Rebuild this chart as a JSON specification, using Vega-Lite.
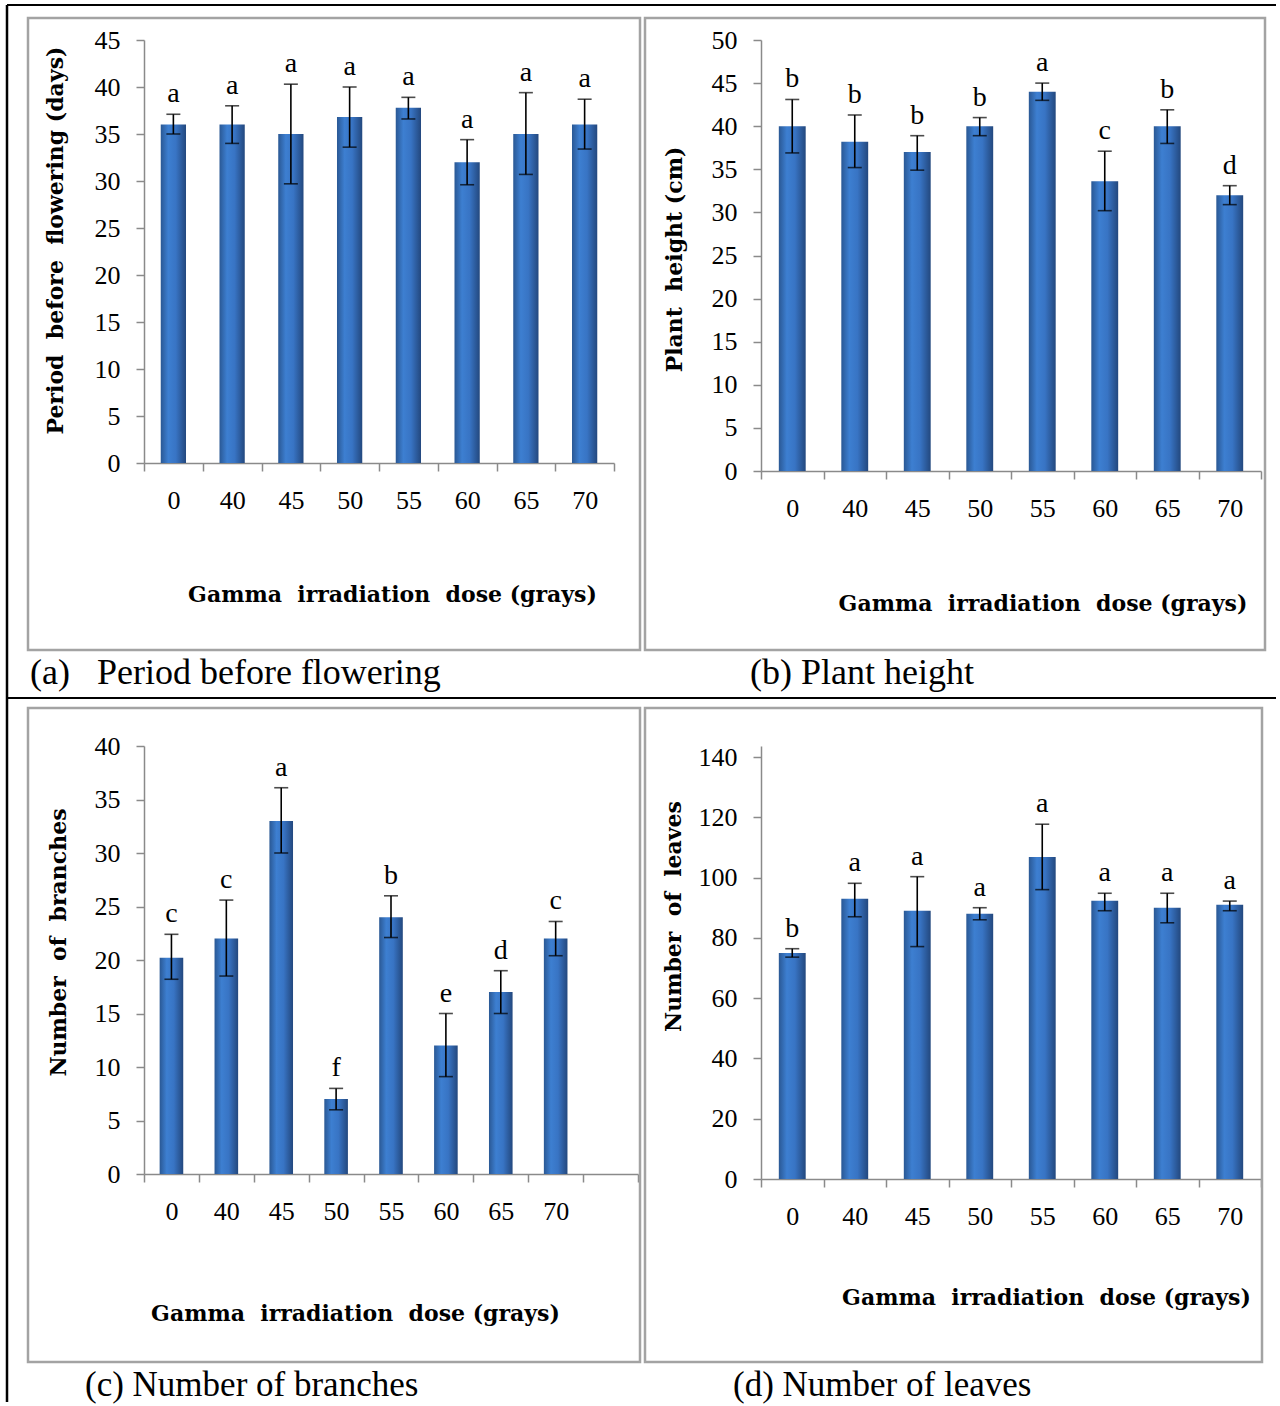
{
  "$schema": "https://vega.github.io/schema/vega-lite/v6.json",
  "padding": {"left": 5, "top": 3, "right": 0, "bottom": 0},
  "background": "white",
  "columns": 2,
  "spacing": {"row": 275, "column": 123},
  "bounds": "flush",
  "datasets": {
    "flowering": [
      {"dose": "0", "mean": 36.0, "lo": 35.0, "hi": 37.1, "letter": "a"},
      {"dose": "40", "mean": 36.0, "lo": 34.0, "hi": 38.0, "letter": "a"},
      {"dose": "45", "mean": 35.0, "lo": 29.7, "hi": 40.3, "letter": "a"},
      {"dose": "50", "mean": 36.8, "lo": 33.6, "hi": 40.0, "letter": "a"},
      {"dose": "55", "mean": 37.8, "lo": 36.6, "hi": 38.9, "letter": "a"},
      {"dose": "60", "mean": 32.0, "lo": 29.6, "hi": 34.4, "letter": "a"},
      {"dose": "65", "mean": 35.0, "lo": 30.7, "hi": 39.4, "letter": "a"},
      {"dose": "70", "mean": 36.0, "lo": 33.4, "hi": 38.7, "letter": "a"}
    ],
    "height": [
      {"dose": "0", "mean": 40.0, "lo": 36.9, "hi": 43.1, "letter": "b"},
      {"dose": "40", "mean": 38.2, "lo": 35.2, "hi": 41.3, "letter": "b"},
      {"dose": "45", "mean": 37.0, "lo": 34.9, "hi": 38.9, "letter": "b"},
      {"dose": "50", "mean": 40.0, "lo": 38.9, "hi": 41.0, "letter": "b"},
      {"dose": "55", "mean": 44.0, "lo": 43.0, "hi": 45.0, "letter": "a"},
      {"dose": "60", "mean": 33.6, "lo": 30.2, "hi": 37.1, "letter": "c"},
      {"dose": "65", "mean": 40.0, "lo": 38.0, "hi": 41.9, "letter": "b"},
      {"dose": "70", "mean": 32.0, "lo": 30.9, "hi": 33.1, "letter": "d"}
    ],
    "branches": [
      {"dose": "0", "mean": 20.2, "lo": 18.2, "hi": 22.4, "letter": "c"},
      {"dose": "40", "mean": 22.0, "lo": 18.5, "hi": 25.6, "letter": "c"},
      {"dose": "45", "mean": 33.0, "lo": 30.0, "hi": 36.1, "letter": "a"},
      {"dose": "50", "mean": 7.0, "lo": 6.0, "hi": 8.0, "letter": "f"},
      {"dose": "55", "mean": 24.0, "lo": 22.1, "hi": 26.0, "letter": "b"},
      {"dose": "60", "mean": 12.0, "lo": 9.1, "hi": 15.0, "letter": "e"},
      {"dose": "65", "mean": 17.0, "lo": 15.0, "hi": 19.0, "letter": "d"},
      {"dose": "70", "mean": 22.0, "lo": 20.4, "hi": 23.6, "letter": "c"}
    ],
    "leaves": [
      {"dose": "0", "mean": 75.0, "lo": 73.6, "hi": 76.4, "letter": "b"},
      {"dose": "40", "mean": 93.0, "lo": 87.0, "hi": 98.1, "letter": "a"},
      {"dose": "45", "mean": 89.0, "lo": 77.1, "hi": 100.3, "letter": "a"},
      {"dose": "50", "mean": 88.0, "lo": 86.0, "hi": 90.0, "letter": "a"},
      {"dose": "55", "mean": 106.8, "lo": 96.0, "hi": 117.7, "letter": "a"},
      {"dose": "60", "mean": 92.3, "lo": 89.0, "hi": 94.8, "letter": "a"},
      {"dose": "65", "mean": 90.0, "lo": 85.0, "hi": 94.8, "letter": "a"},
      {"dose": "70", "mean": 91.0, "lo": 89.0, "hi": 92.2, "letter": "a"}
    ],
    "frame": [{}]
  },
  "concat": [
    {
      "width": 470, "height": 423,
      "resolve": {"scale": {"x": "independent", "y": "independent"}},
      "layer": [
        {
          "data": {"name": "flowering"},
          "encoding": {
            "x": {"field": "dose", "type": "nominal", "scale": {"domain": ["0","40","45","50","55","60","65","70"], "paddingInner": 0, "paddingOuter": 0},
                  "axis": {"orient": "bottom", "title": "Gamma\u00a0 irradiation\u00a0 dose (grays)", "titleX": 248, "titleY": 131, "titleBaseline": "middle", "titleAlign": "center", "labelAngle": 0, "tickBand": "extent"}}
          },
          "layer": [
            {"mark": {"type": "bar", "width": {"band": 0.43}, "fill": {"gradient": "linear", "x1": 0, "y1": 0, "x2": 1, "y2": 0, "stops": [{"offset": 0, "color": "#2a5894"}, {"offset": 0.3, "color": "#3d7fd1"}, {"offset": 0.6, "color": "#3874c4"}, {"offset": 1, "color": "#23487e"}]}},
             "encoding": {"y": {"field": "mean", "type": "quantitative", "scale": {"domain": [0, 45], "nice": false},
               "axis": {"orient": "left", "title": "Period\u00a0 before\u00a0 flowering (days)", "values": [0,5,10,15,20,25,30,35,40,45], "titleX": -89, "titleY": 200, "titleAngle": 270, "titleBaseline": "middle", "titleAlign": "center"}}}},
            {"mark": {"type": "rule", "color": "black", "strokeWidth": 1.6},
             "encoding": {"y": {"field": "lo", "type": "quantitative", "title": "Period\u00a0 before\u00a0 flowering (days)"}, "y2": {"field": "hi"}}},
            {"mark": {"type": "tick", "orient": "horizontal", "size": 14, "thickness": 1.6, "color": "black"},
             "encoding": {"y": {"field": "hi", "type": "quantitative", "title": "Period\u00a0 before\u00a0 flowering (days)"}}},
            {"mark": {"type": "tick", "orient": "horizontal", "size": 14, "thickness": 1.6, "color": "black"},
             "encoding": {"y": {"field": "lo", "type": "quantitative", "title": "Period\u00a0 before\u00a0 flowering (days)"}}},
            {"mark": {"type": "text", "dy": -12, "baseline": "alphabetic", "font": "Liberation Serif", "fontSize": 28, "color": "black"},
             "encoding": {"y": {"field": "hi", "type": "quantitative", "title": "Period\u00a0 before\u00a0 flowering (days)"}, "text": {"field": "letter"}}}
          ]
        },
        {
          "data": {"name": "frame"},
          "encoding": {
            "x": {"datum": 0, "type": "quantitative", "scale": {"domain": [0.189542, 0.957516], "nice": false, "zero": false}, "axis": null},
            "y": {"datum": 0, "type": "quantitative", "scale": {"domain": [0.034810, 0.704114], "nice": false, "zero": false, "reverse": true}, "axis": null}
          },
          "layer": [
            {"mark": {"type": "rect", "filled": false, "stroke": "#a3a3a3", "strokeWidth": 2.5},
             "encoding": {"x2": {"datum": 1}, "y2": {"datum": 1}}},
            {"mark": {"type": "text", "text": "(a)\u00a0\u00a0 Period before flowering", "align": "left", "baseline": "middle", "font": "Liberation Serif", "fontSize": 36, "color": "black"},
             "encoding": {"x": {"datum": 0.003268, "type": "quantitative"}, "y": {"datum": 1.036392, "type": "quantitative"}}},
            {"mark": {"type": "rule", "color": "black", "strokeWidth": 2},
             "encoding": {"x": {"datum": -0.034314, "type": "quantitative"}, "x2": {"datum": 2.039216}, "y": {"datum": -0.020570, "type": "quantitative"}}},
            {"mark": {"type": "rule", "color": "black", "strokeWidth": 2},
             "encoding": {"x": {"datum": -0.034314, "type": "quantitative"}, "x2": {"datum": 2.039216}, "y": {"datum": 1.075949, "type": "quantitative"}}},
            {"mark": {"type": "rule", "color": "black", "strokeWidth": 2.5},
             "encoding": {"x": {"datum": -0.034314, "type": "quantitative"}, "y": {"datum": -0.020570, "type": "quantitative"}, "y2": {"datum": 2.189873}}}
          ]
        }
      ]
    },
    {
      "width": 500, "height": 431,
      "resolve": {"scale": {"x": "independent", "y": "independent"}},
      "layer": [
        {
          "data": {"name": "height"},
          "encoding": {
            "x": {"field": "dose", "type": "nominal", "scale": {"domain": ["0","40","45","50","55","60","65","70"], "paddingInner": 0, "paddingOuter": 0},
                  "axis": {"orient": "bottom", "title": "Gamma\u00a0 irradiation\u00a0 dose (grays)", "titleX": 281.5, "titleY": 132, "titleBaseline": "middle", "titleAlign": "center", "labelAngle": 0, "tickBand": "extent"}}
          },
          "layer": [
            {"mark": {"type": "bar", "width": {"band": 0.43}, "fill": {"gradient": "linear", "x1": 0, "y1": 0, "x2": 1, "y2": 0, "stops": [{"offset": 0, "color": "#2a5894"}, {"offset": 0.3, "color": "#3d7fd1"}, {"offset": 0.6, "color": "#3874c4"}, {"offset": 1, "color": "#23487e"}]}},
             "encoding": {"y": {"field": "mean", "type": "quantitative", "scale": {"domain": [0, 50], "nice": false},
               "axis": {"orient": "left", "title": "Plant\u00a0 height (cm)", "values": [0,5,10,15,20,25,30,35,40,45,50], "titleX": -87, "titleY": 219, "titleAngle": 270, "titleBaseline": "middle", "titleAlign": "center"}}}},
            {"mark": {"type": "rule", "color": "black", "strokeWidth": 1.6},
             "encoding": {"y": {"field": "lo", "type": "quantitative", "title": "Plant\u00a0 height (cm)"}, "y2": {"field": "hi"}}},
            {"mark": {"type": "tick", "orient": "horizontal", "size": 14, "thickness": 1.6, "color": "black"},
             "encoding": {"y": {"field": "hi", "type": "quantitative", "title": "Plant\u00a0 height (cm)"}}},
            {"mark": {"type": "tick", "orient": "horizontal", "size": 14, "thickness": 1.6, "color": "black"},
             "encoding": {"y": {"field": "lo", "type": "quantitative", "title": "Plant\u00a0 height (cm)"}}},
            {"mark": {"type": "text", "dy": -12, "baseline": "alphabetic", "font": "Liberation Serif", "fontSize": 28, "color": "black"},
             "encoding": {"y": {"field": "hi", "type": "quantitative", "title": "Plant\u00a0 height (cm)"}, "text": {"field": "letter"}}}
          ]
        },
        {
          "data": {"name": "frame"},
          "encoding": {
            "x": {"datum": 0, "type": "quantitative", "scale": {"domain": [0.187097, 0.993548], "nice": false, "zero": false}, "axis": null},
            "y": {"datum": 0, "type": "quantitative", "scale": {"domain": [0.034810, 0.716772], "nice": false, "zero": false, "reverse": true}, "axis": null}
          },
          "layer": [
            {"mark": {"type": "rect", "filled": false, "stroke": "#a3a3a3", "strokeWidth": 2.5},
             "encoding": {"x2": {"datum": 1}, "y2": {"datum": 1}}},
            {"mark": {"type": "text", "text": "(b) Plant height", "align": "left", "baseline": "middle", "font": "Liberation Serif", "fontSize": 36, "color": "black"},
             "encoding": {"x": {"datum": 0.169355, "type": "quantitative"}, "y": {"datum": 1.036392, "type": "quantitative"}}}
          ]
        }
      ]
    },
    {
      "width": 494, "height": 428,
      "resolve": {"scale": {"x": "independent", "y": "independent"}},
      "layer": [
        {
          "data": {"name": "branches"},
          "encoding": {
            "x": {"field": "dose", "type": "nominal", "scale": {"domain": ["0","40","45","50","55","60","65","70"," "], "paddingInner": 0, "paddingOuter": 0},
                  "axis": {"orient": "bottom", "title": "Gamma\u00a0 irradiation\u00a0 dose (grays)", "titleX": 211, "titleY": 139, "titleBaseline": "middle", "titleAlign": "center", "labelAngle": 0, "tickBand": "extent"}}
          },
          "layer": [
            {"mark": {"type": "bar", "width": {"band": 0.43}, "fill": {"gradient": "linear", "x1": 0, "y1": 0, "x2": 1, "y2": 0, "stops": [{"offset": 0, "color": "#2a5894"}, {"offset": 0.3, "color": "#3d7fd1"}, {"offset": 0.6, "color": "#3874c4"}, {"offset": 1, "color": "#23487e"}]}},
             "encoding": {"y": {"field": "mean", "type": "quantitative", "scale": {"domain": [0, 40], "nice": false},
               "axis": {"orient": "left", "title": "Number\u00a0 of\u00a0 branches", "values": [0,5,10,15,20,25,30,35,40], "titleX": -86, "titleY": 196, "titleAngle": 270, "titleBaseline": "middle", "titleAlign": "center"}}}},
            {"mark": {"type": "rule", "color": "black", "strokeWidth": 1.6},
             "encoding": {"y": {"field": "lo", "type": "quantitative", "title": "Number\u00a0 of\u00a0 branches"}, "y2": {"field": "hi"}}},
            {"mark": {"type": "tick", "orient": "horizontal", "size": 14, "thickness": 1.6, "color": "black"},
             "encoding": {"y": {"field": "hi", "type": "quantitative", "title": "Number\u00a0 of\u00a0 branches"}}},
            {"mark": {"type": "tick", "orient": "horizontal", "size": 14, "thickness": 1.6, "color": "black"},
             "encoding": {"y": {"field": "lo", "type": "quantitative", "title": "Number\u00a0 of\u00a0 branches"}}},
            {"mark": {"type": "text", "dy": -12, "baseline": "alphabetic", "font": "Liberation Serif", "fontSize": 28, "color": "black"},
             "encoding": {"y": {"field": "hi", "type": "quantitative", "title": "Number\u00a0 of\u00a0 branches"}, "text": {"field": "letter"}}}
          ]
        },
        {
          "data": {"name": "frame"},
          "encoding": {
            "x": {"datum": 0, "type": "quantitative", "scale": {"domain": [0.189542, 0.996732], "nice": false, "zero": false}, "axis": null},
            "y": {"datum": 0, "type": "quantitative", "scale": {"domain": [0.058104, 0.712538], "nice": false, "zero": false, "reverse": true}, "axis": null}
          },
          "layer": [
            {"mark": {"type": "rect", "filled": false, "stroke": "#a3a3a3", "strokeWidth": 2.5},
             "encoding": {"x2": {"datum": 1}, "y2": {"datum": 1}}},
            {"mark": {"type": "text", "text": "(c) Number of branches", "align": "left", "baseline": "middle", "font": "Liberation Serif", "fontSize": 35, "color": "black"},
             "encoding": {"x": {"datum": 0.093137, "type": "quantitative"}, "y": {"datum": 1.035168, "type": "quantitative"}}}
          ]
        }
      ]
    },
    {
      "width": 500, "height": 433,
      "resolve": {"scale": {"x": "independent", "y": "independent"}},
      "layer": [
        {
          "data": {"name": "leaves"},
          "encoding": {
            "x": {"field": "dose", "type": "nominal", "scale": {"domain": ["0","40","45","50","55","60","65","70"], "paddingInner": 0, "paddingOuter": 0},
                  "axis": {"orient": "bottom", "title": "Gamma\u00a0 irradiation\u00a0 dose (grays)", "titleX": 285, "titleY": 118, "titleBaseline": "middle", "titleAlign": "center", "labelAngle": 0, "tickBand": "extent"}}
          },
          "layer": [
            {"mark": {"type": "bar", "width": {"band": 0.43}, "fill": {"gradient": "linear", "x1": 0, "y1": 0, "x2": 1, "y2": 0, "stops": [{"offset": 0, "color": "#2a5894"}, {"offset": 0.3, "color": "#3d7fd1"}, {"offset": 0.6, "color": "#3874c4"}, {"offset": 1, "color": "#23487e"}]}},
             "encoding": {"y": {"field": "mean", "type": "quantitative", "scale": {"domain": [0, 143.65], "nice": false},
               "axis": {"orient": "left", "title": "Number\u00a0 of\u00a0 leaves", "values": [0,20,40,60,80,100,120,140], "titleX": -88, "titleY": 170, "titleAngle": 270, "titleBaseline": "middle", "titleAlign": "center"}}}},
            {"mark": {"type": "rule", "color": "black", "strokeWidth": 1.6},
             "encoding": {"y": {"field": "lo", "type": "quantitative", "title": "Number\u00a0 of\u00a0 leaves"}, "y2": {"field": "hi"}}},
            {"mark": {"type": "tick", "orient": "horizontal", "size": 14, "thickness": 1.6, "color": "black"},
             "encoding": {"y": {"field": "hi", "type": "quantitative", "title": "Number\u00a0 of\u00a0 leaves"}}},
            {"mark": {"type": "tick", "orient": "horizontal", "size": 14, "thickness": 1.6, "color": "black"},
             "encoding": {"y": {"field": "lo", "type": "quantitative", "title": "Number\u00a0 of\u00a0 leaves"}}},
            {"mark": {"type": "text", "dy": -12, "baseline": "alphabetic", "font": "Liberation Serif", "fontSize": 28, "color": "black"},
             "encoding": {"y": {"field": "hi", "type": "quantitative", "title": "Number\u00a0 of\u00a0 leaves"}, "text": {"field": "letter"}}}
          ]
        },
        {
          "data": {"name": "frame"},
          "encoding": {
            "x": {"datum": 0, "type": "quantitative", "scale": {"domain": [0.188006, 0.998379], "nice": false, "zero": false}, "axis": null},
            "y": {"datum": 0, "type": "quantitative", "scale": {"domain": [0.058104, 0.720183], "nice": false, "zero": false, "reverse": true}, "axis": null}
          },
          "layer": [
            {"mark": {"type": "rect", "filled": false, "stroke": "#a3a3a3", "strokeWidth": 2.5},
             "encoding": {"x2": {"datum": 1}, "y2": {"datum": 1}}},
            {"mark": {"type": "text", "text": "(d) Number of leaves", "align": "left", "baseline": "middle", "font": "Liberation Serif", "fontSize": 35, "color": "black"},
             "encoding": {"x": {"datum": 0.142626, "type": "quantitative"}, "y": {"datum": 1.035168, "type": "quantitative"}}}
          ]
        }
      ]
    }
  ],
  "config": {
    "view": {"stroke": null},
    "axis": {
      "grid": false,
      "domainColor": "#8a8a8a", "domainWidth": 1.5,
      "tickColor": "#8a8a8a", "tickWidth": 1.5, "tickSize": 8,
      "labelFont": "Liberation Serif", "labelFontSize": 26, "labelColor": "#000000", "labelPadding": 16,
      "titleFont": "DejaVu Serif", "titleFontWeight": "bold", "titleFontSize": 22, "titleColor": "#000000"
    }
  }
}
